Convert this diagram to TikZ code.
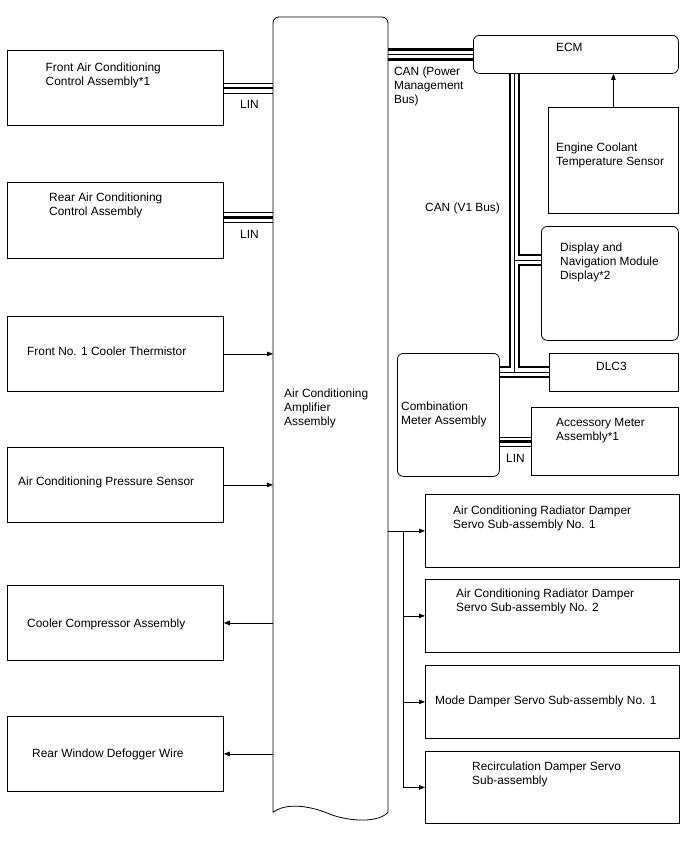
\documentclass[tikz,border=0pt]{standalone}
\usepackage{fontspec}
\setmainfont{Liberation Sans}
\usetikzlibrary{arrows.meta, positioning, calc}

\begin{document}
\begin{tikzpicture}[x=1pt, y=-1pt,
  blk/.style={draw, line width=0.8pt, rectangle, inner sep=0pt, anchor=north west},
  rblk/.style={blk, rounded corners=6pt},
  txt/.style={inner sep=0pt, anchor=north west, align=left, font=\fontsize{11.9}{13.8}\selectfont},
  sig/.style={line width=0.8pt, -{Triangle[length=6pt,width=4.5pt]}},
  busthick/.style={line width=2.2pt},
  busthin/.style={line width=0.8pt}]
  \useasboundingbox (0,0) rectangle (688,852);
  % Blocs de gauche
  \node[blk, minimum width=216pt, minimum height=75pt] (fac) at (7,50) {};
  \node[blk, minimum width=216pt, minimum height=76pt] (rac) at (7,182) {};
  \node[blk, minimum width=216pt, minimum height=75pt] (fnt) at (7,316) {};
  \node[blk, minimum width=216pt, minimum height=75pt] (aps) at (7,447) {};
  \node[blk, minimum width=216pt, minimum height=75pt] (ccp) at (7,585) {};
  \node[blk, minimum width=216pt, minimum height=75pt] (rwd) at (7,716) {};
  \node[txt, below right=13pt and 38.5pt of fac.north west] (facT) {Front Air Conditioning\\Control Assembly*1};
  \node[txt, below right=11pt and 42pt of rac.north west] (racT) {Rear Air Conditioning\\Control Assembly};
  \node[txt, below right=31pt and 20pt of fnt.north west] (fntT) {Front No. 1 Cooler Thermistor};
  \node[txt, below right=30pt and 11pt of aps.north west] (apsT) {Air Conditioning Pressure Sensor};
  \node[txt, below right=34pt and 20pt of ccp.north west] (ccpT) {Cooler Compressor Assembly};
  \node[txt, below right=33pt and 25pt of rwd.north west] (rwdT) {Rear Window Defogger Wire};
  % Amplificateur
  \node[inner sep=0pt, minimum width=114.5pt, minimum height=795pt, anchor=north west] (amp) at (273,17) {};
  \draw[line width=0.8pt] (amp.south west) [rounded corners=6pt] -- (amp.north west) -- (amp.north east)
    [sharp corners] -- (amp.south east) .. controls (377,824) and (345,821) .. (327,813)
    .. controls (307,805) and (285,803) .. (amp.south west);
  \node[txt, below right=372pt and 11pt of amp.north west] (ampT) {Air Conditioning\\Amplifier\\Assembly};
  % Blocs de droite
  \node[rblk, minimum width=205pt, minimum height=38pt] (ecm) at (473,35) {};
  \node[blk, minimum width=130pt, minimum height=106pt] (ect) at (548,107) {};
  \node[rblk, minimum width=137pt, minimum height=114pt] (dnm) at (541,226) {};
  \node[blk, minimum width=129pt, minimum height=38pt] (dlc) at (549,353) {};
  \node[rblk, minimum width=102pt, minimum height=123pt] (cmb) at (397,353) {};
  \node[blk, minimum width=147pt, minimum height=68pt] (acc) at (531,407) {};
  \node[blk, minimum width=254pt, minimum height=73pt] (r1) at (425,494) {};
  \node[blk, minimum width=254pt, minimum height=73pt] (r2) at (425,579) {};
  \node[blk, minimum width=254pt, minimum height=73pt] (r3) at (425,665) {};
  \node[blk, minimum width=254pt, minimum height=72pt] (r4) at (425,751) {};
  \node[txt, below right=8pt and 83pt of ecm.north west] (ecmT) {ECM};
  \node[txt, below right=36pt and 8pt of ect.north west] (ectT) {Engine Coolant\\Temperature Sensor};
  \node[txt, below right=17pt and 19pt of dnm.north west] (dnmT) {Display and\\Navigation Module\\Display*2};
  \node[txt, below right=9pt and 47pt of dlc.north west] (dlcT) {DLC3};
  \node[txt, below right=49pt and 4pt of cmb.north west] (cmbT) {Combination\\Meter Assembly};
  \node[txt, below right=11pt and 25pt of acc.north west] (accT) {Accessory Meter\\Assembly*1};
  \node[txt, below right=12pt and 28pt of r1.north west] (r1T) {Air Conditioning Radiator Damper\\Servo Sub-assembly No. 1};
  \node[txt, below right=10pt and 31pt of r2.north west] (r2T) {Air Conditioning Radiator Damper\\Servo Sub-assembly No. 2};
  \node[txt, below right=31pt and 10pt of r3.north west] (r3T) {Mode Damper Servo Sub-assembly No. 1};
  \node[txt, below right=11pt and 47pt of r4.north west] (r4T) {Recirculation Damper Servo\\Sub-assembly};
  % Liaisons LIN
  \draw[busthick] (fac.east) -- (fac.east -| amp.west);
  \draw[busthin] ($(fac.east)+(0,-5)$) -- ($(fac.east -| amp.west)+(0,-5)$);
  \draw[busthin] ($(fac.east)+(0,5)$) -- ($(fac.east -| amp.west)+(0,5)$);
  \node[txt] (lin1) at (240,100) {LIN};
  \draw[busthick] ($(rac.east)+(0,-3)$) -- ($(rac.east -| amp.west)+(0,-3)$);
  \draw[busthin] ($(rac.east)+(0,-8)$) -- ($(rac.east -| amp.west)+(0,-8)$);
  \draw[busthin] ($(rac.east)+(0,2)$) -- ($(rac.east -| amp.west)+(0,2)$);
  \node[txt] (lin2) at (240,230) {LIN};
  \draw[busthick] (acc.west -| cmb.east) -- (acc.west);
  \draw[busthin] ($(acc.west -| cmb.east)+(0,-4.5)$) -- ($(acc.west)+(0,-4.5)$);
  \draw[busthin] ($(acc.west -| cmb.east)+(0,4.5)$) -- ($(acc.west)+(0,4.5)$);
  \node[txt] (lin3) at (506,454) {LIN};
  % Bus CAN
  \draw[busthin] (ecm.west -| amp.east) -- (ecm.west);
  \draw[busthick] ($(ecm.west -| amp.east)+(0,-5)$) -- ($(ecm.west)+(0,-5)$);
  \draw[busthick] ($(ecm.west -| amp.east)+(0,5)$) -- ($(ecm.west)+(0,5)$);
  \node[txt, below right=50pt and 6pt of amp.north east] (canpm) {CAN (Power\\Management\\Bus)};
  \coordinate (jd) at (514.5,260);
  \coordinate (jl) at (514.5,372);
  \draw[busthin] (ecm.south -| jd) -- (jl);
  \draw[busthin] (jd) -- (jd -| dnm.west);
  \draw[busthin] (jl -| cmb.east) -- (jl -| dlc.west);
  \draw[busthick] ($(ecm.south -| jd)+(4.5,0)$) |- ($(jd -| dnm.west)+(0,-5)$);
  \draw[busthick] ($(jd -| dnm.west)+(0,5)$) -| ($(jl)+(4.5,-5)$) -- ($(jl -| dlc.west)+(0,-5)$);
  \draw[busthick] ($(ecm.south -| jd)+(-4.5,0)$) |- ($(jl -| cmb.east)+(0,-5)$);
  \draw[busthick] ($(jl -| cmb.east)+(0,5)$) -- ($(jl -| dlc.west)+(0,5)$);
  \node[txt] (canv1) at (425,203) {CAN (V1 Bus)};
  % Signaux
  \draw[sig] (ect.north) -- (ect.north |- ecm.south);
  \foreach \b in {fnt,aps}
    \draw[sig] (\b.east) -- (\b.east -| amp.west);
  \foreach \b in {ccp,rwd}
    \draw[sig] (\b.east -| amp.west) -- (\b.east);
  \draw[sig] (r1.west -| amp.east) -- (r1.west);
  \coordinate (br) at ($(r1.west -| amp.east)+(15.5,0)$);
  \draw[line width=0.8pt] (br) -- (br |- r4.west);
  \foreach \b in {r2,r3,r4}
    \draw[sig] (br |- \b.west) -- (\b.west);
\end{tikzpicture}
\end{document}
